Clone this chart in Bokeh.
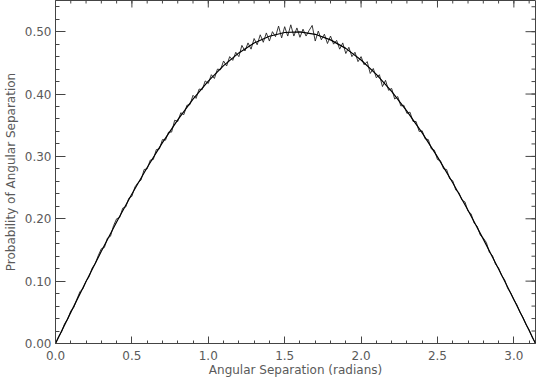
from bokeh.plotting import figure
from bokeh.models import Range1d, SingleIntervalTicker, PrintfTickFormatter
from bokeh.embed import file_html
from bokeh.resources import INLINE
import numpy as np

# Smooth (theoretical) curve
smooth_x = [0.0, 0.1, 0.2, 0.3, 0.4, 0.5, 0.6, 0.7, 0.8, 0.9, 1.0, 1.1, 1.2, 1.3, 1.4, 1.5,
            1.6, 1.7, 1.8, 1.9, 2.0, 2.1, 2.2, 2.3, 2.4, 2.5, 2.6, 2.7, 2.8, 2.9, 3.0, 3.1, 3.1416]
smooth_y = [0.0, 0.0499, 0.0993, 0.1478, 0.1947, 0.2397, 0.2823, 0.3221, 0.3587, 0.3917,
            0.4207, 0.4456, 0.4660, 0.4818, 0.4927, 0.4987, 0.4998, 0.4958, 0.4869, 0.4732,
            0.4546, 0.4316, 0.4042, 0.3727, 0.3377, 0.2992, 0.2578, 0.2136, 0.1674, 0.1194,
            0.0706, 0.0208, 0.0]

# Measured (noisy) histogram, bins every 0.02 rad
hist_y = [0.000, 0.011, 0.019, 0.032, 0.039, 0.052, 0.058, 0.071, 0.083, 0.088,
          0.100, 0.107, 0.121, 0.128, 0.141, 0.152, 0.154, 0.169, 0.172, 0.189,
          0.200, 0.202, 0.217, 0.219, 0.233, 0.236, 0.251, 0.258, 0.262, 0.279,
          0.280, 0.294, 0.295, 0.311, 0.312, 0.327, 0.326, 0.339, 0.339, 0.358,
          0.356, 0.370, 0.367, 0.382, 0.383, 0.398, 0.393, 0.408, 0.407, 0.421,
          0.417, 0.431, 0.425, 0.440, 0.439, 0.453, 0.445, 0.460, 0.454, 0.467,
          0.460, 0.478, 0.469, 0.482, 0.472, 0.489, 0.479, 0.495, 0.483, 0.498,
          0.485, 0.500, 0.492, 0.509, 0.490, 0.508, 0.493, 0.511, 0.493, 0.506,
          0.491, 0.504, 0.493, 0.502, 0.510, 0.485, 0.501, 0.487, 0.496, 0.481,
          0.493, 0.480, 0.486, 0.472, 0.482, 0.465, 0.475, 0.460, 0.467, 0.452,
          0.460, 0.447, 0.452, 0.433, 0.441, 0.426, 0.431, 0.412, 0.422, 0.406,
          0.409, 0.392, 0.396, 0.381, 0.382, 0.369, 0.371, 0.356, 0.356, 0.340,
          0.341, 0.328, 0.327, 0.312, 0.310, 0.295, 0.293, 0.280, 0.279, 0.264,
          0.261, 0.246, 0.242, 0.230, 0.227, 0.212, 0.208, 0.193, 0.188, 0.174,
          0.169, 0.162, 0.146, 0.141, 0.127, 0.121, 0.109, 0.102, 0.088, 0.081,
          0.070, 0.062, 0.050, 0.042, 0.030, 0.022, 0.010, 0.001]
hist_x = [round(0.02 * i, 2) for i in range(len(hist_y))]

X_RANGE = (0.0, 3.1416)
Y_RANGE = (0.0, 0.55)
X_MAJOR, X_MINOR = 0.5, 0.1
Y_MAJOR, Y_MINOR = 0.1, 0.02

TXT = "#5a5a5a"
AXC = "#444444"
FONT = "DejaVu Sans"

p = figure(width=537, height=379, output_backend="svg", toolbar_location=None,
           x_range=Range1d(*X_RANGE), y_range=Range1d(*Y_RANGE),
           min_border_left=43, min_border_right=2, min_border_top=0, min_border_bottom=0,
           x_axis_label="Angular Separation (radians)",
           y_axis_label="Probability of Angular Separation")
p.grid.visible = False
p.outline_line_color = AXC
p.background_fill_color = "white"
p.border_fill_color = "white"

p.line(hist_x, hist_y, line_color="#222222", line_width=0.9)
p.line(smooth_x, smooth_y, line_color="black", line_width=1.2)

# Ticks on the top and right frame edges (inward), drawn as screen-length rays
xmaj = np.arange(X_RANGE[0], X_RANGE[1] + 1e-9, X_MAJOR)
xmin = np.arange(X_RANGE[0], X_RANGE[1] + 1e-9, X_MINOR)
ymaj = np.arange(Y_RANGE[0], Y_RANGE[1] + 1e-9, Y_MAJOR)
ymin = np.arange(Y_RANGE[0], Y_RANGE[1] + 1e-9, Y_MINOR)
p.ray(x=xmaj, y=Y_RANGE[1], length=7, length_units="screen", angle=-np.pi / 2,
      line_color=AXC, line_width=1)
p.ray(x=xmin, y=Y_RANGE[1], length=3, length_units="screen", angle=-np.pi / 2,
      line_color=AXC, line_width=1)
p.ray(x=X_RANGE[1], y=ymaj, length=10, length_units="screen", angle=np.pi,
      line_color=AXC, line_width=1)
p.ray(x=X_RANGE[1], y=ymin, length=4, length_units="screen", angle=np.pi,
      line_color=AXC, line_width=1)

xa = p.xaxis[0]
xa.ticker = SingleIntervalTicker(interval=X_MAJOR, num_minor_ticks=5)
xa.formatter = PrintfTickFormatter(format="%.1f")
xa.axis_line_color = AXC
xa.major_tick_line_color = AXC
xa.minor_tick_line_color = AXC
xa.major_tick_out = 0
xa.minor_tick_out = 0
xa.major_tick_in = 7
xa.minor_tick_in = 3
xa.major_label_text_font = FONT
xa.major_label_text_font_size = "12px"
xa.major_label_text_color = TXT
xa.major_label_standoff = 7
xa.axis_label_text_font = FONT
xa.axis_label_text_font_size = "12px"
xa.axis_label_text_font_style = "normal"
xa.axis_label_text_color = TXT
xa.axis_label_standoff = 0

ya = p.yaxis[0]
ya.ticker = SingleIntervalTicker(interval=Y_MAJOR, num_minor_ticks=5)
ya.formatter = PrintfTickFormatter(format="%.2f")
ya.axis_line_color = AXC
ya.major_tick_line_color = AXC
ya.minor_tick_line_color = AXC
ya.major_tick_out = 0
ya.minor_tick_out = 0
ya.major_tick_in = 10
ya.minor_tick_in = 4
ya.major_label_text_font = FONT
ya.major_label_text_font_size = "12px"
ya.major_label_text_color = TXT
ya.major_label_standoff = 4
ya.axis_label_text_font = FONT
ya.axis_label_text_font_size = "12px"
ya.axis_label_text_font_style = "normal"
ya.axis_label_text_color = TXT
ya.axis_label_standoff = 4

open("out.html", "w").write(file_html(p, INLINE))
